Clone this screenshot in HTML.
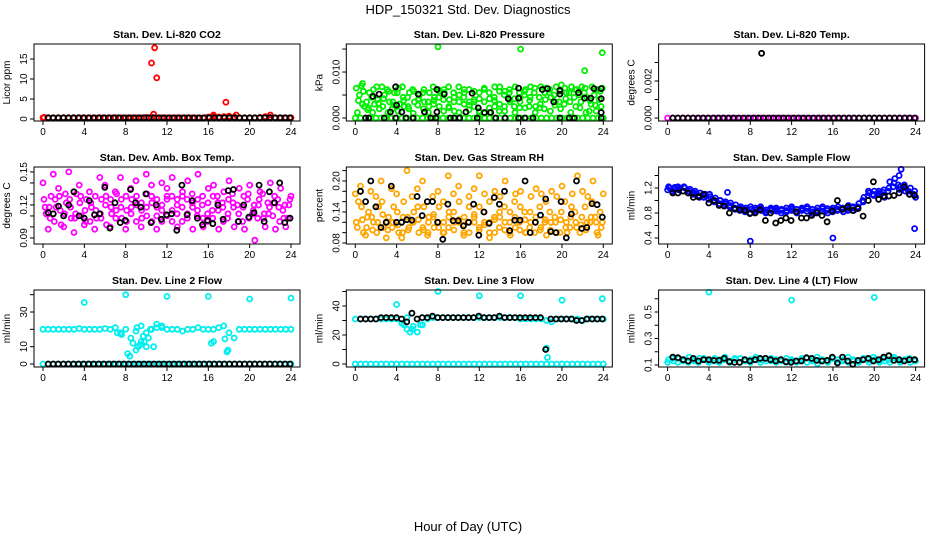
<!DOCTYPE html>
<html><head><meta charset="utf-8"><style>
html,body{margin:0;padding:0;background:#fff;}
svg{display:block;font-family:"Liberation Sans",sans-serif;}
</style></head><body>
<svg id="chart" width="936" height="540" viewBox="0 0 936 540" xmlns="http://www.w3.org/2000/svg">
<rect width="936" height="540" fill="#fff"/>
<text x="468" y="14" text-anchor="middle" font-size="13">HDP_150321  Std. Dev. Diagnostics</text>
<text x="468" y="531" text-anchor="middle" font-size="13">Hour of Day (UTC)</text>
<g id="plots"></g>
</svg>
<script>
// ---- data ----
const xTicks=[0,4,8,12,16,20,24];
// P1 CO2
const p1RedBase=[0.3,0.35,0.3,0.3,0.32,0.3,0.3,0.35,0.3,0.3,0.3,0.32,0.3,0.3,0.35,0.3,0.3,0.3,0.3,0.3,0.4,0.5,0.3,0.3,0.3,0.3,0.3,0.3,0.35,0.3,0.3,0.3,0.5,0.6,0.5,0.6,0.7,0.5,0.3,0.3,0.3,0.3,0.4,0.6,0.4,0.3,0.3,0.3,0.3];
const p1RedOutX=[10.5,10.8,11.0,17.7,10.7,16.5,18.7,22.0,0.1];
const p1RedOutY=[14,17.8,10.3,4.2,1.2,1.0,1.0,1.0,0.4];
const p1Black=[0.3,0.3,0.3,0.3,0.3,0.3,0.3,0.3,0.3,0.3,0.3,0.3,0.3,0.3,0.3,0.3,0.3,0.3,0.3,0.3,0.3,0.3,0.3,0.3,0.3,0.3,0.3,0.3,0.3,0.3,0.3,0.3,0.3,0.3,0.3,0.3,0.3,0.3,0.3,0.3,0.3,0.3,0.3,0.3,0.3,0.3,0.3,0.3,0.3];
// P2 pressure
const p2Zero=[0,0,0,0,0,0,0,0,0,0,0,0,0,0,0,0,0,0,0,0,0,0,0,0,0,0,0,0,0,0,0,0,0,0,0,0,0,0,0,0,0,0,0,0,0,0,0,0,0];
const p2GreenA=[0.0065,0.007,0.0035,0.0045,0.0068,0.0068,0.0062,0.002,0.0055,0.0068,0.0045,0.0062,0.0028,0.0055,0.0035,0.0068,0.0062,0.004,0.0068,0.0055,0.0068,0.0045,0.0062,0.0035,0.0015,0.0062,0.0042,0.0068,0.0068,0.0058,0.0035,0.0068,0.0045,0.0062,0.0068,0.0025,0.0068,0.0065,0.0045,0.0068,0.0072,0.0055,0.0068,0.0062,0.0068,0.0045,0.0068,0.0062,0.0065];
const p2GreenB=[0.0012,0.003,0.0018,0.0012,0.004,0.0025,0.0012,0.0035,0.0015,0.0045,0.0025,0.001,0.004,0.002,0.0012,0.003,0.0045,0.0015,0.0025,0.0035,0.0012,0.003,0.0018,0.004,0.0012,0.001,0.0012,0.0025,0.003,0.0015,0.004,0.0012,0.0035,0.0022,0.0045,0.0012,0.003,0.004,0.0015,0.0035,0.002,0.0042,0.0012,0.0025,0.0035,0.0012,0.003,0.0015,0.0025];
const p2GreenC=[0.005,0.0025,0.0055,0.003,0.002,0.005,0.0035,0.0055,0.003,0.0025,0.0055,0.0035,0.005,0.0035,0.0055,0.0045,0.0025,0.0055,0.004,0.0015,0.005,0.0055,0.0035,0.0025,0.0055,0.0035,0.0055,0.0045,0.0015,0.005,0.0055,0.0025,0.0055,0.005,0.0025,0.0055,0.0045,0.002,0.0055,0.005,0.0035,0.003,0.0055,0.0045,0.005,0.0055,0.0015,0.005,0.004];
const p2GreenD=[0.0038,0.0058,0.0022,0.0062,0.0032,0.0042,0.0058,0.0028,0.0065,0.0038,0.002,0.0058,0.0042,0.0062,0.0025,0.0038,0.0058,0.0062,0.0022,0.0045,0.0035,0.0062,0.0028,0.0058,0.0042,0.0065,0.0022,0.0038,0.0058,0.0025,0.0062,0.0042,0.0022,0.0058,0.0038,0.0065,0.0022,0.0055,0.0062,0.0028,0.0058,0.0065,0.0035,0.0062,0.0022,0.0065,0.0038,0.0028,0.0058];
const p2GreenOutX=[8,16,22.2,23.9,0.7];
const p2GreenOutY=[0.0155,0.015,0.0103,0.0142,0.0075];
const p2BlackX=[1.7,2.3,3.4,3.9,4.0,4.5,6.1,6.7,7.9,7.9,8.6,10.7,11.3,11.9,12.5,13.1,14.8,15.8,15.8,18.1,18.6,19.2,19.8,19.8,21.6,22.2,22.8,23.1,23.8,23.8,23.8,1,1.3,2.8,3.9,4.9,5.6,7.3,7.8,9.2,9.6,10.1,11.8,13.6,14.5,15.8,16.4,17.2,19.8,20.7,21.2,23.8];
const p2BlackY=[0.0047,0.0052,0.0013,0.0068,0.0028,0.0013,0.0052,0.0013,0.0062,0.0013,0.0052,0.0013,0.0054,0.0022,0.0012,0.0012,0.0042,0.0065,0.0043,0.0062,0.0064,0.0035,0.006,0.0052,0.0055,0.0043,0.0043,0.0064,0.0064,0.0042,0.0012,0,0,0,0,0,0,0,0,0,0,0,0,0,0,0,0,0,0,0,0,0];
// P3 temp
const p3Magenta=[0,0,0,0,0,0,0,0,0,0,0,0,0,0,0,0,0,0,0,0,0,0,0,0,0,0,0,0,0,0,0,0,0,0,0,0,0,0,0,0,0,0,0,0,0,0,0,0,0];
const p3Black=[0,0,0,0,0,0,0,0,0,0,0,0,0,0,0,0,0,0,0,0,0,0,0,0,0,0,0,0,0,0,0,0,0,0,0,0,0,0,0,0,0,0,0,0,0,0,0,0,0];
const p3OutX=[9.1];
const p3OutY=[0.0035];
// P4 amb box temp
const p4A=[0.125,0.118,0.105,0.128,0.112,0.125,0.108,0.122,0.115,0.105,0.128,0.112,0.12,0.125,0.108,0.118,0.128,0.112,0.105,0.122,0.118,0.128,0.11,0.115,0.125,0.105,0.12,0.128,0.112,0.118,0.125,0.108,0.122,0.128,0.115,0.105,0.125,0.118,0.112,0.128,0.108,0.12,0.125,0.112,0.118,0.128,0.105,0.12,0.125];
const p4B=[0.112,0.128,0.118,0.102,0.122,0.108,0.13,0.11,0.125,0.118,0.108,0.125,0.102,0.112,0.13,0.108,0.115,0.125,0.12,0.108,0.13,0.105,0.125,0.12,0.11,0.128,0.112,0.105,0.125,0.13,0.11,0.12,0.105,0.115,0.128,0.122,0.108,0.13,0.12,0.105,0.125,0.112,0.108,0.13,0.122,0.11,0.125,0.115,0.108];
const p4D=[0.118,0.108,0.125,0.115,0.13,0.118,0.112,0.128,0.105,0.122,0.115,0.108,0.128,0.118,0.115,0.125,0.105,0.118,0.128,0.115,0.11,0.122,0.118,0.105,0.128,0.115,0.125,0.118,0.108,0.122,0.115,0.128,0.112,0.108,0.122,0.118,0.112,0.122,0.105,0.118,0.13,0.115,0.12,0.108,0.112,0.122,0.118,0.108,0.12];
const p4C=[0.14,0.098,0.148,0.135,0.1,0.15,0.095,0.138,0.102,0.132,0.098,0.145,0.138,0.1,0.132,0.145,0.098,0.135,0.142,0.1,0.148,0.138,0.098,0.14,0.135,0.145,0.1,0.132,0.142,0.098,0.148,0.1,0.135,0.138,0.098,0.132,0.142,0.1,0.135,0.098,0.138,0.088,0.132,0.1,0.14,0.098,0.135,0.1,0.128];
const p4Black=[0.113,0.112,0.119,0.11,0.12,0.132,0.11,0.108,0.124,0.111,0.112,0.136,0.099,0.122,0.104,0.106,0.134,0.122,0.118,0.13,0.104,0.12,0.107,0.111,0.112,0.097,0.138,0.111,0.124,0.108,0.102,0.106,0.103,0.12,0.107,0.133,0.134,0.105,0.12,0.109,0.113,0.138,0.105,0.132,0.122,0.14,0.104,0.108];
// P5 RH
const p5A=[0.12,0.15,0.11,0.13,0.1,0.16,0.12,0.11,0.14,0.1,0.13,0.12,0.15,0.11,0.1,0.13,0.12,0.16,0.11,0.14,0.12,0.1,0.15,0.13,0.11,0.12,0.16,0.1,0.13,0.12,0.14,0.11,0.15,0.1,0.12,0.13,0.11,0.16,0.12,0.1,0.14,0.12,0.15,0.11,0.13,0.12,0.16,0.1,0.12];
const p5B=[0.16,0.1,0.14,0.12,0.15,0.11,0.13,0.15,0.1,0.16,0.11,0.14,0.1,0.15,0.13,0.11,0.15,0.1,0.14,0.12,0.16,0.13,0.1,0.12,0.15,0.14,0.1,0.13,0.11,0.15,0.1,0.16,0.12,0.14,0.11,0.1,0.15,0.12,0.14,0.13,0.1,0.16,0.11,0.14,0.1,0.15,0.12,0.13,0.14];
const p5D=[0.11,0.125,0.13,0.105,0.12,0.135,0.105,0.12,0.115,0.13,0.105,0.12,0.125,0.105,0.12,0.135,0.11,0.12,0.13,0.105,0.125,0.115,0.12,0.135,0.105,0.115,0.12,0.125,0.14,0.105,0.12,0.13,0.105,0.125,0.14,0.12,0.105,0.125,0.105,0.12,0.125,0.11,0.13,0.12,0.115,0.105,0.13,0.12,0.11];
const p5C=[0.175,0.19,0.095,0.18,0.17,0.2,0.09,0.185,0.175,0.09,0.22,0.17,0.185,0.2,0.095,0.17,0.18,0.1,0.21,0.175,0.19,0.095,0.17,0.185,0.21,0.175,0.09,0.18,0.17,0.2,0.095,0.175,0.18,0.1,0.17,0.185,0.175,0.095,0.18,0.17,0.19,0.1,0.175,0.21,0.18,0.17,0.2,0.095,0.175];
const p5Black=[0.18,0.16,0.2,0.15,0.11,0.12,0.19,0.12,0.12,0.125,0.124,0.17,0.133,0.16,0.16,0.12,0.087,0.155,0.123,0.123,0.113,0.12,0.155,0.095,0.14,0.118,0.168,0.155,0.18,0.104,0.124,0.124,0.2,0.1,0.12,0.134,0.165,0.102,0.1,0.16,0.09,0.136,0.2,0.108,0.11,0.156,0.154,0.13];
// P6 sample flow
const p6A=[1.2,1.21,1.2,1.2,1.18,1.15,1.12,1.1,1.06,1.04,1.0,0.98,0.96,0.93,0.9,0.88,0.86,0.85,0.84,0.85,0.84,0.83,0.84,0.82,0.84,0.86,0.84,0.83,0.82,0.84,0.83,0.84,0.85,0.84,0.86,0.87,0.88,0.9,1.0,1.08,1.1,1.12,1.13,1.15,1.22,1.25,1.2,1.15,1.1];
const p6B=[1.17,1.15,1.22,1.15,1.12,1.1,1.08,1.05,1.02,0.98,0.95,0.92,0.9,0.88,0.84,0.82,0.8,0.88,0.9,0.8,0.88,0.86,0.8,0.88,0.9,0.8,0.88,0.9,0.79,0.88,0.9,0.8,0.88,0.9,0.82,0.92,0.84,0.95,1.05,1.12,1.15,1.1,1.05,1.3,1.35,1.22,1.15,1.2,1.05];
const p6D=[1.22,1.18,1.17,1.22,1.15,1.12,1.05,1.08,1.1,1.0,1.0,0.95,0.92,0.86,0.87,0.85,0.9,0.82,0.87,0.82,0.86,0.88,0.86,0.84,0.87,0.82,0.86,0.87,0.86,0.82,0.87,0.87,0.82,0.86,0.88,0.84,0.9,0.88,0.98,1.15,1.08,1.15,1.17,1.2,1.28,1.18,1.25,1.1,1.15];
const p6OutX=[8,16,23.9,22.6,22.4,5.8];
const p6OutY=[0.35,0.4,0.55,1.5,1.4,1.13];
const p6Black=[1.12,1.12,1.15,1.12,1.05,1.06,1.1,0.96,1.0,0.92,0.91,0.8,0.87,0.85,0.84,0.79,0.8,0.85,0.68,0.8,0.64,0.68,0.72,0.68,0.82,0.72,0.72,0.76,0.8,0.76,0.66,0.83,1.0,0.86,0.9,0.84,0.87,0.75,1.0,1.3,1.02,1.07,1.07,1.08,1.12,1.22,1.1,1.08];
// P7 line 2
const p7Main=[20,20,20,20,20,20,20,20.5,20,20,20,20,20.5,20,21,18,20,15,8,13,18,20,21,22,20,20,20,19,20,20,21,20,20,20,21,22,18,15,20,20,20,20,20,20,20,20,20,20,20];
const p7ScatX=[8.2,8.4,8.7,9.0,9.2,9.4,9.7,9.8,10.0,10.2,10.4,10.7,16.3,16.5,17.6,17.8,17.9,7.2,7.6,9.1,9.5,11.0,11.5,4,8,12,16,20,24];
const p7ScatY=[6,4.5,12,19,10,11,16,13,10,15,20,10,12,13,14.5,7,8,18,17,21,22,23,21,35.5,40,39,39,37.5,38];
const p7Zero=[0,0,0,0,0,0,0,0,0,0,0,0,0,0,0,0,0,0,0,0,0,0,0,0,0,0,0,0,0,0,0,0,0,0,0,0,0,0,0,0,0,0,0,0,0,0,0,0,0];
// P8 line 3
const p8Main=[31,31,31,31,31,31,31,31,31,28,32,24,22,27,31,32,32,32,32,32,32,32,32,32,32,32,32,32,32,32,32,32,31,31,31,31,31,30,29,31,31,31,31,31,30,31,31,31,31];
const p8ScatX=[4.0,8,12,16,20,23.9,18.5,18.6,4.7,5.0,5.3,5.6,6.3];
const p8ScatY=[41,50,47,47,44,45,11,4.5,27,24,22,26,27];
const p8Black=[31,31,31,31,32,32,32,32,31,29,35,31,32,32,33,32,32,32,32,32,32,32,32,33,32,32,32,33,32,32,32,32,32,32,32,32,10,31,31,31,31,31,30,30,31,31,31,31];
const p8Zero=[0,0,0,0,0,0,0,0,0,0,0,0,0,0,0,0,0,0,0,0,0,0,0,0,0,0,0,0,0,0,0,0,0,0,0,0,0,0,0,0,0,0,0,0,0,0,0,0,0];
// P9 line 4
const p9Main=[0.14,0.13,0.15,0.14,0.16,0.13,0.15,0.14,0.13,0.15,0.14,0.16,0.13,0.14,0.15,0.13,0.14,0.16,0.14,0.13,0.15,0.14,0.13,0.15,0.14,0.13,0.14,0.15,0.13,0.16,0.14,0.13,0.15,0.14,0.13,0.16,0.14,0.13,0.15,0.14,0.16,0.13,0.15,0.14,0.16,0.13,0.14,0.15,0.14];
const p9Sub=[0.12,0.15,0.12,0.13,0.12,0.14,0.12,0.15,0.12,0.13,0.12,0.14,0.12,0.15,0.12,0.13,0.12,0.14,0.12,0.15,0.13,0.12,0.14,0.12,0.13,0.12,0.15,0.12,0.14,0.11,0.13,0.12,0.15,0.12,0.14,0.12,0.13,0.12,0.15,0.12,0.14,0.12,0.13,0.12,0.15,0.12,0.14,0.12,0.13];
const p9OutX=[4,12,20];
const p9OutY=[0.65,0.59,0.61];
const p9Black=[0.16,0.155,0.14,0.13,0.15,0.13,0.14,0.14,0.135,0.135,0.15,0.125,0.12,0.12,0.14,0.13,0.14,0.15,0.15,0.14,0.13,0.14,0.125,0.12,0.13,0.13,0.155,0.15,0.135,0.13,0.135,0.16,0.115,0.16,0.13,0.105,0.135,0.14,0.15,0.13,0.14,0.16,0.17,0.135,0.14,0.13,0.14,0.14];

const panels=[
 {name:'co2',title:'Stan. Dev. Li-820 CO2',ylab:'Licor ppm',col:0,row:0,dom:[-0.5,18.75],ticks:[0,5,10,15],labels:['0','5','10','15'],
  series:[{c:'#ff0000',ys:p1RedBase,x0:0,x1:24},{c:'#ff0000',xs:p1RedOutX,ys:p1RedOutY},{c:'#000',ys:p1Black,x0:0.5,x1:23.9}]},
 {name:'pressure',title:'Stan. Dev. Li-820 Pressure',ylab:'kPa',col:1,row:0,dom:[-0.00065,0.0161],ticks:[0,0.005,0.01,0.015],labels:['0.000','','0.010',''],
  series:[{c:'#00ee00',ys:p2Zero,x0:0,x1:24},{c:'#00ee00',ys:p2GreenB,x0:0.2,x1:23.8},{c:'#00ee00',ys:p2GreenC,x0:0.4,x1:23.6},{c:'#00ee00',ys:p2GreenD,x0:0.3,x1:23.7},{c:'#00ee00',ys:p2GreenA,x0:0.1,x1:23.9},{c:'#00ee00',xs:p2GreenOutX,ys:p2GreenOutY},{c:'#000',xs:p2BlackX,ys:p2BlackY}]},
 {name:'li820-temp',title:'Stan. Dev. Li-820 Temp.',ylab:'degrees C',col:2,row:0,dom:[-0.00016,0.0040],ticks:[0,0.001,0.002,0.003],labels:['0.000','','0.002',''],
  series:[{c:'#ff00ff',ys:p3Magenta,x0:0,x1:24},{c:'#000',ys:p3Black,x0:0.5,x1:23.9},{c:'#000',xs:p3OutX,ys:p3OutY}]},
 {name:'amb-box-temp',title:'Stan. Dev. Amb. Box Temp.',ylab:'degrees C',col:0,row:1,dom:[0.0845,0.1545],ticks:[0.09,0.10,0.11,0.12,0.13,0.14,0.15],labels:['0.09','','','0.12','','','0.15'],
  series:[{c:'#ff00ff',ys:p4C,x0:0,x1:24},{c:'#ff00ff',ys:p4A,x0:0.1,x1:23.9},{c:'#ff00ff',ys:p4B,x0:0.3,x1:23.7},{c:'#ff00ff',ys:p4D,x0:0.2,x1:23.8},{c:'#000',ys:p4Black,x0:0.5,x1:23.9}]},
 {name:'gas-stream-rh',title:'Stan. Dev. Gas Stream RH',ylab:'percent',col:1,row:1,dom:[0.078,0.227],ticks:[0.08,0.10,0.12,0.14,0.16,0.18,0.20,0.22],labels:['0.08','','','0.14','','','0.20',''],
  series:[{c:'#ffa500',ys:p5C,x0:0,x1:24},{c:'#ffa500',ys:p5A,x0:0.1,x1:23.9},{c:'#ffa500',ys:p5B,x0:0.3,x1:23.7},{c:'#ffa500',ys:p5D,x0:0.2,x1:23.8},{c:'#000',ys:p5Black,x0:0.5,x1:23.9}]},
 {name:'sample-flow',title:'Stan. Dev. Sample Flow',ylab:'ml/min',col:2,row:1,dom:[0.304,1.536],ticks:[0.4,0.6,0.8,1.0,1.2,1.4],labels:['0.4','','0.8','','1.2',''],
  series:[{c:'#0000ff',ys:p6B,x0:0,x1:24},{c:'#0000ff',ys:p6A,x0:0.2,x1:23.8},{c:'#0000ff',ys:p6D,x0:0.1,x1:23.9},{c:'#0000ff',xs:p6OutX,ys:p6OutY},{c:'#000',ys:p6Black,x0:0.5,x1:23.9}]},
 {name:'line2-flow',title:'Stan. Dev. Line 2 Flow',ylab:'ml/min',col:0,row:2,dom:[-1.73,42.7],ticks:[0,10,20,30,40],labels:['0','10','','30',''],
  series:[{c:'#00eeee',ys:p7Zero,x0:0,x1:24},{c:'#000',ys:p7Zero,x0:0.5,x1:23.9},{c:'#00eeee',ys:p7Main,x0:0,x1:24},{c:'#00eeee',xs:p7ScatX,ys:p7ScatY}]},
 {name:'line3-flow',title:'Stan. Dev. Line 3 Flow',ylab:'ml/min',col:1,row:2,dom:[-2.07,51.03],ticks:[0,10,20,30,40,50],labels:['0','','20','','40',''],
  series:[{c:'#00eeee',ys:p8Zero,x0:0,x1:24},{c:'#00eeee',ys:p8Main,x0:0,x1:24},{c:'#00eeee',xs:p8ScatX,ys:p8ScatY},{c:'#000',ys:p8Black,x0:0.5,x1:23.9}]},
 {name:'line4-flow',title:'Stan. Dev. Line 4 (LT) Flow',ylab:'ml/min',col:2,row:2,dom:[0.085,0.666],ticks:[0.1,0.2,0.3,0.4,0.5,0.6],labels:['0.1','','0.3','','0.5',''],
  series:[{c:'#00eeee',ys:p9Sub,x0:0,x1:24},{c:'#00eeee',ys:p9Main,x0:0.1,x1:23.9},{c:'#00eeee',xs:p9OutX,ys:p9OutY},{c:'#000',ys:p9Black,x0:0.5,x1:23.9}]}
];

const NS='http://www.w3.org/2000/svg';
const root=document.getElementById('plots');
function mk(tag,attrs,parent){const e=document.createElementNS(NS,tag);for(const k in attrs)e.setAttribute(k,attrs[k]);parent.appendChild(e);return e;}

panels.forEach(p=>{
  const L=34+p.col*312.3, R=L+266, T=44+p.row*123, B=T+77;
  const X0=L+9, X1=R-9;
  const sx=v=>X0+(v/24)*(X1-X0);
  const sy=v=>B-(v-p.dom[0])/(p.dom[1]-p.dom[0])*(B-T);
  const g=mk('g',{},root);
  
  
  const t=mk('text',{x:(L+R)/2,y:T-6,'text-anchor':'middle','font-size':'10.5','font-weight':'bold'},g);
  t.textContent=p.title;
  
  
  const yl=mk('text',{x:0,y:0,'text-anchor':'middle','font-size':'10',transform:`translate(${L-24},${(T+B)/2}) rotate(-90)`},g);
  yl.textContent=p.ylab;
  
  
  const pg=mk('g',{fill:'none','stroke-width':'1.8'},g);
  
  
  p.series.forEach(s=>{
    const n=s.ys.length;
    s.ys.forEach((v,i)=>{
      const xv=s.xs?s.xs[i]:(n>1?s.x0+(s.x1-s.x0)*i/(n-1):s.x0);
      const c=mk('circle',{cx:sx(xv).toFixed(1),cy:sy(v).toFixed(1),r:'2.5',stroke:s.c},pg);
      
      
    });
  });
  const fr=mk('rect',{x:L,y:T,width:R-L,height:B-T,fill:'none',stroke:'#000','stroke-width':'1'},g);
  
  
  p.ticks.forEach((v,i)=>{
    const y=sy(v);
    const tk=mk('line',{x1:L-4,x2:L,y1:y,y2:y,stroke:'#000'},g);
    
    
    if(p.labels[i]){
      const lb=mk('text',{x:0,y:0,'text-anchor':'middle','font-size':'10',transform:`translate(${L-7},${y}) rotate(-90)`},g);
      lb.textContent=p.labels[i];
      
      
    }
  });
  xTicks.forEach(v=>{
    const x=sx(v);
    const tk=mk('line',{x1:x,x2:x,y1:B,y2:B+4,stroke:'#000'},g);
    
    
    const lb=mk('text',{x:x,y:B+14,'text-anchor':'middle','font-size':'10'},g);
    lb.textContent=String(v);
    
    
  });
});
</script>
</body></html>
